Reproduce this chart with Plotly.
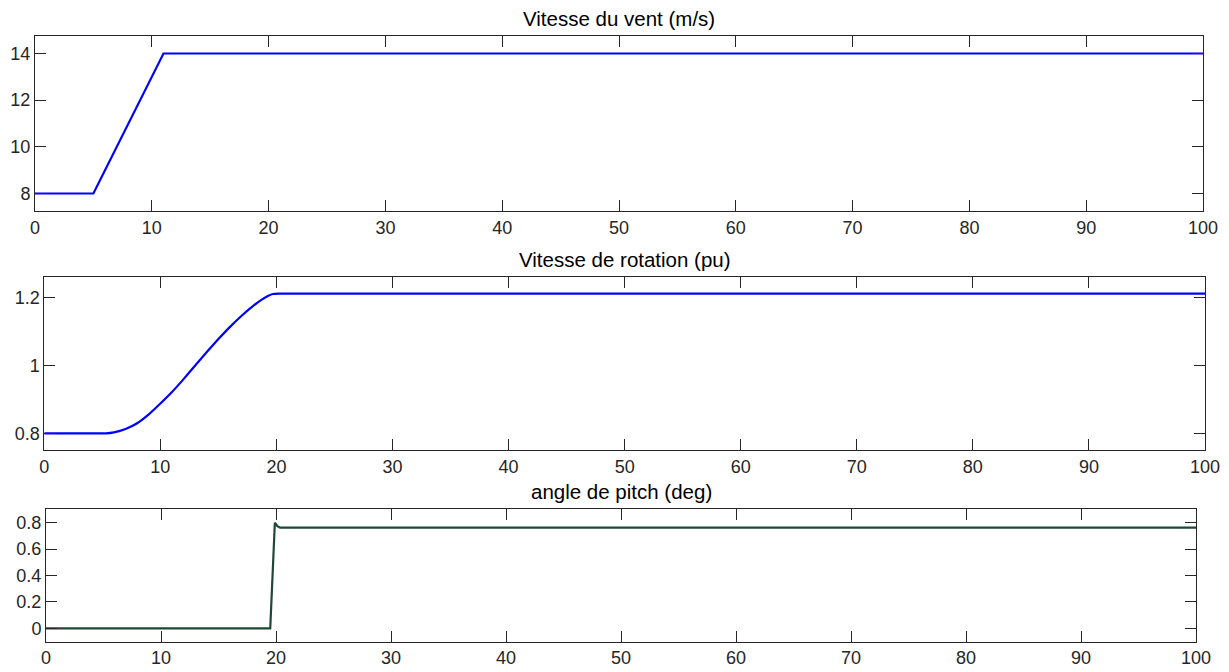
import plotly.graph_objects as go

# Data
t_wind = [0, 5, 11, 100]
wind = [8, 8, 14, 14]

t_rot = [0, 3.0, 4.5, 5.3, 6.0, 7.0, 8.0, 9.0, 10.0, 11.0, 12.0, 13.0, 14.0, 15.0, 16.0, 17.0, 18.0, 18.8, 19.3, 19.7, 20.2, 25, 100]
rot = [0.8, 0.8, 0.8, 0.8, 0.803, 0.813, 0.83, 0.856, 0.888, 0.922, 0.96, 1.0, 1.04, 1.078, 1.114, 1.147, 1.176, 1.196, 1.206, 1.211, 1.212, 1.212, 1.212]

t_pitch = [0, 19.5, 19.9, 20.1, 20.35, 100]
pitch = [0, 0, 0.8, 0.775, 0.762, 0.762]

titles = ["Vitesse du vent (m/s)", "Vitesse de rotation (pu)", "angle de pitch (deg)"]
x_ticks = [0, 10, 20, 30, 40, 50, 60, 70, 80, 90, 100]

# page body has an 8px margin; figure is sized to fit the 1229x672 window
OFF = 8
W, H = 1229 - OFF, 672 - OFF
FONT = "Liberation Sans, Arial, sans-serif"
AX = "#262626"

def px_dom(a, b):
    return [(a - OFF) / W, (b - OFF) / W]

def py_dom(top, bot):
    return [1 - (bot - OFF) / H, 1 - (top - OFF) / H]

panels = [
    dict(x=px_dom(35, 1203), y=py_dom(36, 211), yr=[7.25, 14.75], yt=[8, 10, 12, 14], ytt=["8", "10", "12", "14"]),
    dict(x=px_dom(44.3, 1205), y=py_dom(276.7, 450), yr=[0.751, 1.262], yt=[0.8, 1.0, 1.2], ytt=["0.8", "1", "1.2"]),
    dict(x=px_dom(46, 1196), y=py_dom(509.3, 641.7), yr=[-0.1015, 0.9015], yt=[0, 0.2, 0.4, 0.6, 0.8], ytt=["0", "0.2", "0.4", "0.6", "0.8"]),
]

fig = go.Figure()
series = [(t_wind, wind, "#0000FF", "linear"), (t_rot, rot, "#0000FF", "spline"), (t_pitch, pitch, "#1f4636", "linear")]
for i, (xs, ys, c, shp) in enumerate(series):
    n = "" if i == 0 else str(i + 1)
    line = dict(color=c, width=2.2, shape=shp)
    if shp == "spline":
        line["smoothing"] = 0.5
    fig.add_trace(go.Scatter(x=xs, y=ys, mode="lines", line=line,
                             xaxis="x" + n, yaxis="y" + n, showlegend=False, hoverinfo="skip"))

layout = dict(width=W, height=H, margin=dict(l=0, r=0, t=0, b=0, autoexpand=False),
              paper_bgcolor="white", plot_bgcolor="white",
              font=dict(family=FONT, color=AX, size=18), annotations=[])
for i, p in enumerate(panels):
    n = "" if i == 0 else str(i + 1)
    common = dict(showline=True, linecolor=AX, linewidth=1, mirror="ticks", ticks="inside",
                  ticklen=11, tickcolor=AX, tickwidth=1, showgrid=False, zeroline=False,
                  tickfont=dict(family=FONT, size=18, color=AX))
    layout["xaxis" + n] = dict(domain=p["x"], range=[0, 100], tickvals=x_ticks,
                               ticktext=[str(v) for v in x_ticks], anchor="y" + n, **common)
    layout["yaxis" + n] = dict(domain=p["y"], range=p["yr"], tickvals=p["yt"], ticktext=p["ytt"],
                               anchor="x" + n, **common)
    layout["annotations"].append(dict(text=titles[i], xref="paper", yref="paper",
                                      x=(p["x"][0] + p["x"][1]) / 2, y=p["y"][1],
                                      xanchor="center", yanchor="bottom", yshift=4, showarrow=False,
                                      font=dict(family=FONT, size=20.5, color="#000000")))
fig.update_layout(**layout)
fig.write_html("out.html")
